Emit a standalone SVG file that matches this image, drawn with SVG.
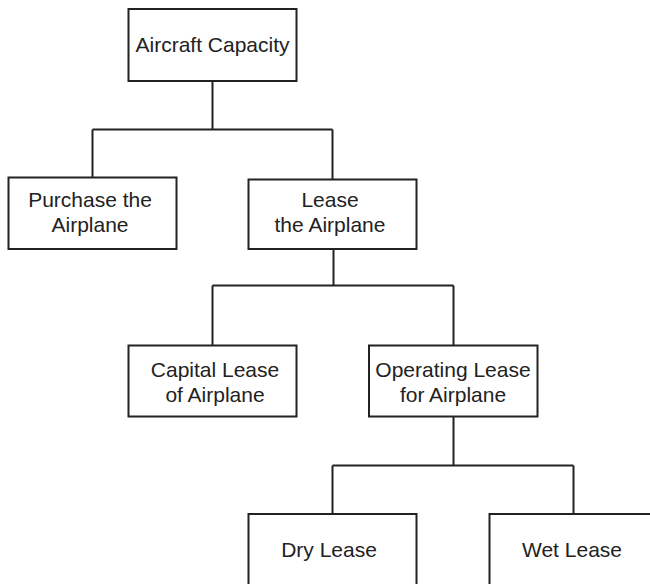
<svg xmlns="http://www.w3.org/2000/svg" width="650" height="584" viewBox="0 0 650 584">
<style>
.box{fill:#fff;stroke:#222;stroke-width:2}
.ln{fill:none;stroke:#222;stroke-width:2}
text{font-family:"Liberation Sans",Arial,sans-serif;font-size:21px;fill:#222;text-anchor:middle}
</style>
<rect width="650" height="584" fill="#fff"/>
<g id="connectors">
<path class="ln" d="M212.5 81V129.5M92.5 129.5H332.5M92.5 129.5V177.5M332.5 129.5V179.5"/>
<path class="ln" d="M333.5 249V285.5M212.5 285.5H453.5M212.5 285.5V345.5M453.5 285.5V345.5"/>
<path class="ln" d="M453.5 417V465.5M332.5 465.5H573.5M332.5 465.5V514M573.5 465.5V514"/>
</g>
<g id="aircraft-capacity">
<rect class="box" x="128.5" y="9" width="168" height="72"/>
<text x="212.5" y="52">Aircraft Capacity</text>
</g>
<g id="purchase">
<rect class="box" x="8.5" y="177.5" width="168" height="71.5"/>
<text x="90" y="207">Purchase the</text>
<text x="90" y="232">Airplane</text>
</g>
<g id="lease">
<rect class="box" x="248.5" y="179.5" width="168" height="69.5"/>
<text x="330" y="207">Lease</text>
<text x="330" y="232">the Airplane</text>
</g>
<g id="capital-lease">
<rect class="box" x="128.5" y="345.5" width="168" height="71"/>
<text x="215" y="377">Capital Lease</text>
<text x="215" y="402">of Airplane</text>
</g>
<g id="operating-lease">
<rect class="box" x="369" y="345.5" width="168.5" height="71"/>
<text x="453" y="377">Operating Lease</text>
<text x="453" y="402">for Airplane</text>
</g>
<g id="dry-lease">
<rect class="box" x="248.5" y="514" width="168" height="80"/>
<text x="329" y="557">Dry Lease</text>
</g>
<g id="wet-lease">
<rect class="box" x="489.5" y="514" width="180" height="80"/>
<text x="572" y="557">Wet Lease</text>
</g>
</svg>
